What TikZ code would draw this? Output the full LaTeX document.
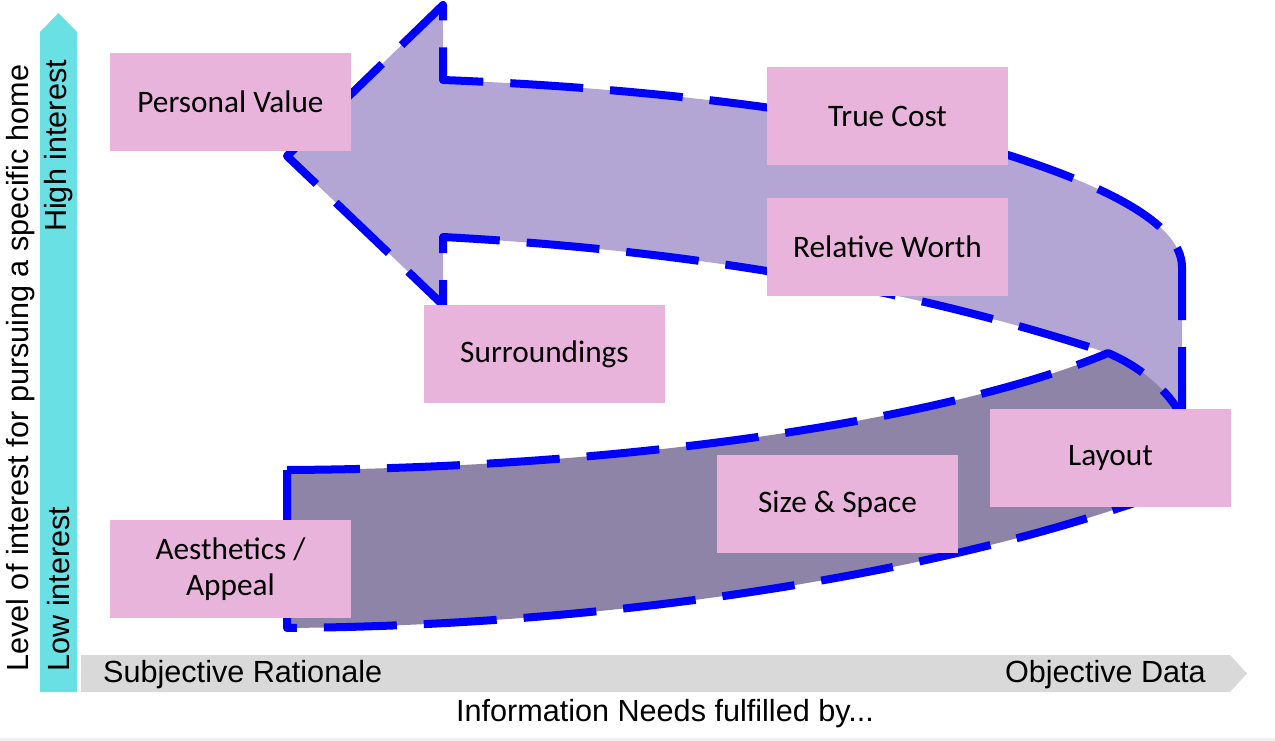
\documentclass[tikz,border=0pt]{standalone}
\usepackage{fontspec}
\setmainfont{Liberation Sans}
\newfontfamily\boxfont{Carlito}
\definecolor{pinkbox}{RGB}{233,180,219}
\definecolor{lightarrow}{RGB}{179,166,212}
\definecolor{darkarrow}{RGB}{142,132,168}
\definecolor{arrowblue}{RGB}{0,0,255}
\definecolor{cyanbar}{RGB}{104,224,228}
\definecolor{graybar}{RGB}{217,217,217}
\definecolor{edgegray}{RGB}{240,240,240}
\begin{document}
\begin{tikzpicture}[x=1pt,y=-1pt,
  box/.style={fill=pinkbox, minimum width=241pt, minimum height=98pt, inner sep=0pt,
    font=\boxfont\fontsize{31.3}{36}\selectfont, align=center, text=black},
  outl/.style={draw=arrowblue, line width=8pt, dash pattern=on 73pt off 27pt, line join=round},
  axislabel/.style={font=\fontsize{30.6}{34}\selectfont, inner sep=0pt, text=black}]
\useasboundingbox (0,0) rectangle (1275,741);
\fill[edgegray] (0,738) rectangle (1275,741);

% upper (light) U-turn arrow
\fill[lightarrow] (287,156) -- (443,5) -- (443,80)
  .. controls (650,88) and (850,112) .. (1008,155)
  .. controls (1070,175) and (1182,215) .. (1182,267)
  -- (1182,420) -- (1108,353)
  .. controls (990,315) and (780,255) .. (443,237)
  -- (443,305) -- cycle;
\draw[outl] (1182,420) -- (1182,267)
  .. controls (1182,215) and (1070,175) .. (1008,155)
  .. controls (850,112) and (650,88) .. (443,80)
  -- (443,5) -- (287,156) -- (443,305) -- (443,237)
  .. controls (780,255) and (990,315) .. (1108,353);

% lower (dark) band
\path[fill=darkarrow, outl] (287,470)
  .. controls (650,468) and (960,415) .. (1108,353)
  .. controls (1160,375) and (1195,420) .. (1190,455)
  .. controls (1185,485) and (1155,497) .. (1122,507)
  .. controls (950,565) and (650,625) .. (287,628)
  -- cycle;

% boxes
\node[box] (pv) at (230.5,102) {Personal Value};
\node[box] (tc) at (887.5,116) {True Cost};
\node[box] (rw) at (887.5,247) {Relative Worth};
\node[box] (su) at (544.5,354) {Surroundings};
\node[box] (la) at (1110.5,458) {Layout};
\node[box] (ss) at (837.5,504) {Size \& Space};
\node[box] (ae) at (230.5,569) {Aesthetics /\\Appeal};

% vertical axis
\fill[cyanbar] (40,692) -- (40,32) -- (58.5,13) -- (77,32) -- (77,692) -- cycle;
\node[axislabel, rotate=90] (hi) at (59,146) {High interest};
\node[axislabel, rotate=90] (lo) at (59,589) {Low interest};
\node[axislabel, rotate=90] (lvl) at (21,368) {Level of interest for pursuing a specific home};

% horizontal axis
\fill[graybar] (81,655) -- (1230,655) -- (1247,673.5) -- (1230,692) -- (81,692) -- cycle;
\node[axislabel, anchor=west] (subj) at (103,675) {Subjective Rationale};
\node[axislabel, anchor=east] (obj) at (1206,675) {Objective Data};
\node[axislabel] (info) at (665,714) {Information Needs fulfilled by...};
\end{tikzpicture}
\end{document}
